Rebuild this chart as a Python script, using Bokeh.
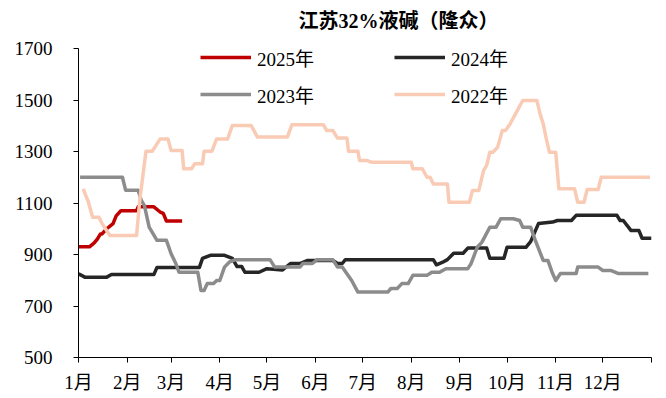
from bokeh.plotting import figure
from bokeh.models import Legend, LegendItem, FixedTicker, Range1d, Label
from bokeh.embed import file_html
from bokeh.resources import INLINE

# ---- data (x = day of year, y = price) ----
title_text = "江苏32%液碱（隆众）"
month_ticks = [0, 31, 59, 90, 120, 151, 181, 212, 243, 273, 304, 334, 365]
month_labels = ["1月", "2月", "3月", "4月", "5月", "6月", "7月", "8月", "9月", "10月", "11月", "12月", ""]
y_ticks = [500, 700, 900, 1100, 1300, 1500, 1700]

days_2025 = [0, 7, 10, 12, 14, 15, 18, 22, 24, 27, 37, 38, 48, 52, 54, 56, 66]
vals_2025 = [930, 930, 945, 960, 980, 980, 1000, 1020, 1050, 1070, 1070, 1085, 1085, 1065, 1060, 1030, 1030]

days_2024 = [0, 4, 18, 21, 48, 50, 77, 79, 84, 93, 98, 101, 104, 106, 115, 120, 130, 135, 141, 146,
             162, 165, 168, 170, 226, 228, 232, 235, 239, 245, 248, 260, 262, 271, 273, 285, 288, 293,
             302, 305, 314, 317, 343, 345, 347, 352, 357, 359, 365]
vals_2024 = [825, 812, 812, 822, 822, 850, 850, 885, 897, 897, 885, 853, 853, 831, 831, 845, 840, 865, 865, 877,
             877, 865, 865, 880, 880, 860, 870, 880, 905, 905, 925, 925, 885, 885, 928, 928, 950, 1020,
             1026, 1032, 1032, 1052, 1052, 1032, 1032, 993, 993, 963, 963]

days_2023 = [1, 28, 30, 38, 40, 42, 45, 50, 56, 59, 62, 64, 76, 78, 80, 82, 86, 88, 90, 93, 96, 100,
             122, 125, 141, 143, 149, 152, 162, 165, 168, 174, 178, 197, 199, 203, 206, 210, 213, 222,
             225, 230, 234, 248, 250, 254, 257, 262, 266, 269, 277, 281, 283, 288, 291, 296, 299, 302,
             304, 307, 317, 318, 331, 334, 339, 344, 363]
vals_2023 = [1200, 1200, 1150, 1150, 1110, 1090, 1006, 955, 955, 903, 865, 831, 831, 760, 760, 787, 787, 799, 799, 851, 870, 880,
             880, 851, 851, 865, 865, 880, 880, 851, 851, 799, 754, 754, 768, 768, 787, 787, 819, 819,
             831, 831, 845, 845, 864, 928, 948, 1006, 1006, 1039, 1039, 1032, 1006, 1006, 955, 877, 877, 826,
             799, 826, 826, 851, 851, 838, 838, 826, 826]

days_2022 = [3, 5, 6, 9, 13, 15, 20, 37, 39, 43, 47, 49, 52, 57, 59, 66, 67, 72, 74, 79, 80, 85, 88, 95,
             98, 110, 114, 133, 136, 156, 158, 162, 165, 171, 172, 178, 179, 184, 187, 212, 213, 219,
             222, 224, 226, 235, 236, 249, 251, 255, 256, 258, 260, 262, 264, 267, 270, 272, 275, 283,
             292, 294, 296, 298, 300, 304, 306, 316, 318, 322, 324, 331, 333, 364]
vals_2022 = [1155, 1123, 1110, 1045, 1045, 1020, 974, 974, 1110, 1301, 1301, 1320, 1349, 1349, 1304, 1304, 1233, 1233, 1252, 1252, 1301, 1301, 1349, 1349,
             1401, 1401, 1356, 1356, 1404, 1404, 1382, 1382, 1352, 1352, 1301, 1301, 1265, 1265, 1258, 1258, 1233, 1233,
             1200, 1200, 1174, 1174, 1103, 1103, 1149, 1149, 1174, 1226, 1246, 1297, 1297, 1317, 1382, 1382, 1408, 1498,
             1498, 1446, 1408, 1349, 1297, 1297, 1155, 1155, 1103, 1103, 1152, 1152, 1200, 1200]

series = [
    ("2025年", days_2025, vals_2025, "#C00000"),
    ("2024年", days_2024, vals_2024, "#262626"),
    ("2023年", days_2023, vals_2023, "#8C8C8C"),
    ("2022年", days_2022, vals_2022, "#F9CBB5"),
]

FONT = "'Liberation Serif', 'Noto Sans CJK SC'"

# plot area: 309 px for 500..1700; extra 48 px headroom above for title and legend
Y_MIN, Y_MAX = 500, 1700
head = 48 * (Y_MAX - Y_MIN) / 309.0

p = figure(output_backend="svg", toolbar_location=None,
           frame_width=573, frame_height=357,
           min_border_left=78, min_border_top=0, min_border_right=7, min_border_bottom=30,
           x_range=Range1d(0, 365), y_range=Range1d(Y_MIN, Y_MAX + head))

p.outline_line_color = None
p.xgrid.visible = False
p.ygrid.visible = False
p.background_fill_color = "white"
p.border_fill_color = "white"

renderers = {}
for name, d, v, c in series:
    r = p.line(d, v, line_color=c, line_width=3.5, line_join="round")
    renderers[name] = r

title = Label(x=220, y=337, x_units="screen", y_units="screen", text=title_text,
              text_font=FONT, text_font_size="20px", text_font_style="bold",
              text_color="black", text_baseline="middle", text_align="left")
p.add_layout(title)

xa = p.xaxis[0]
xa.ticker = FixedTicker(ticks=month_ticks)
xa.major_label_overrides = {t: l for t, l in zip(month_ticks, month_labels)}
xa.minor_tick_line_color = None
xa.major_tick_in = 0
xa.major_tick_out = 5
xa.axis_line_color = "black"
xa.major_tick_line_color = "black"
xa.major_label_text_font = FONT
xa.major_label_text_font_size = "19px"
xa.major_label_text_color = "black"
xa.major_label_standoff = 9

ya = p.yaxis[0]
ya.ticker = FixedTicker(ticks=y_ticks)
ya.bounds = (Y_MIN, Y_MAX)
ya.minor_tick_line_color = None
ya.major_tick_in = 0
ya.major_tick_out = 5
ya.axis_line_color = "black"
ya.major_tick_line_color = "black"
ya.major_label_text_font = FONT
ya.major_label_text_font_size = "19px"
ya.major_label_text_color = "black"
ya.major_label_standoff = 21

def make_legend(names, loc):
    lg = Legend(items=[LegendItem(label=n, renderers=[renderers[n]]) for n in names],
                location=loc, orientation="horizontal",
                glyph_width=51, glyph_height=28, label_height=28,
                label_standoff=6, spacing=80, padding=0, margin=0,
                border_line_color=None, background_fill_alpha=0,
                label_text_font=FONT, label_text_font_size="19px", label_text_color="black")
    p.add_layout(lg, "center")

make_legend(["2025年", "2024年"], (122, 286))
make_legend(["2023年", "2022年"], (122, 249))

open("out.html", "w").write(file_html(p, INLINE))
